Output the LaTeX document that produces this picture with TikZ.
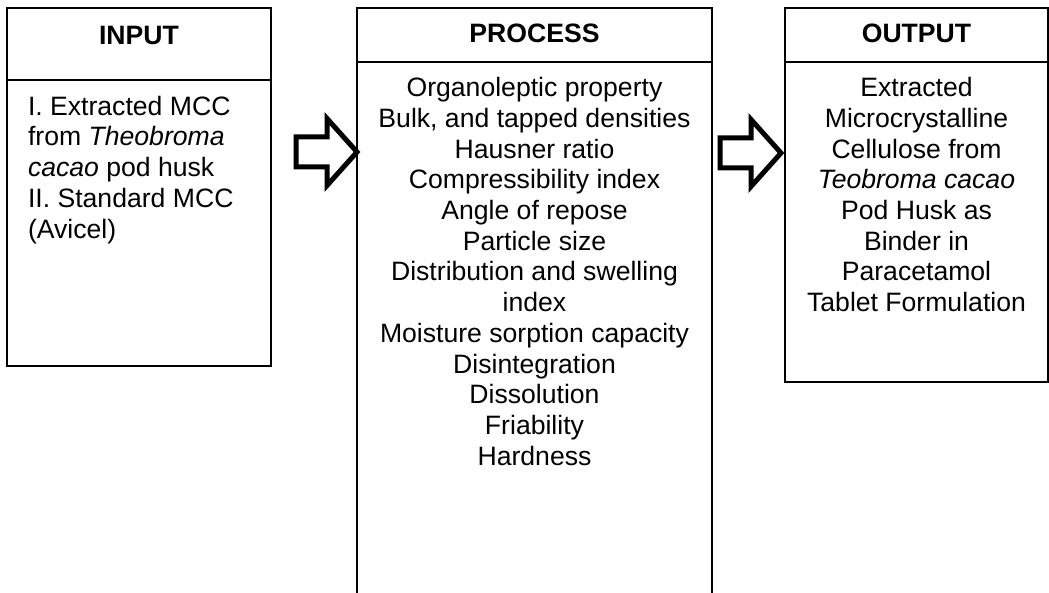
\documentclass[tikz,border=0pt]{standalone}
\usepackage{fontspec}
\setmainfont{Liberation Sans}

\begin{document}
\begin{tikzpicture}[x=0.5pt, y=-0.5pt,
      every node/.style={font=\fontsize{13.3}{15.35}\selectfont, inner sep=0pt, outer sep=0pt},
      headtext/.style={font=\fontsize{13.3}{15.35}\selectfont\bfseries, anchor=base},
      bodytext/.style={anchor=north, align=center},
      boxline/.style={line width=0.6pt},
      bigarrow/.pic={
        \draw[line width=2.5pt, line join=miter] (0,0) -- (-30,-33.5) -- (-30,-15)
          -- (-61,-15) -- (-61,15) -- (-30,15) -- (-30,33.5) -- cycle;}]
      \path[use as bounding box] (0,0) rectangle (1049,593);
      \clip (0,0) rectangle (1049,593);

      % input
      \draw[boxline] (7,8) rectangle (271,366);
      \draw[boxline] (7,80) -- (271,80);
      \node[headtext] (inhead) at (139,45) {INPUT};
      \node[anchor=north west, align=left] (intext) at (28,96)
        {I. Extracted MCC\\ from \textit{Theobroma}\\ \textit{cacao} pod husk\\ II. Standard MCC\\ (Avicel)};

      % process (box runs off the page)
      \draw[boxline] (357,620) -- (357,8) -- (712,8) -- (712,620);
      \draw[boxline] (357,62) -- (712,62);
      \node[headtext] (prochead) at (534.5,43) {PROCESS};
      \node[bodytext] (proctext) at (534.5,77.5)
        {Organoleptic property\\ Bulk, and tapped densities\\ Hausner ratio\\
         Compressibility index\\ Angle of repose\\ Particle size\\
         Distribution and swelling\\ index\\ Moisture sorption capacity\\
         Disintegration\\ Dissolution\\ Friability\\ Hardness};

      % output
      \draw[boxline] (785,8) rectangle (1048,382);
      \draw[boxline] (785,62) -- (1048,62);
      \node[headtext] (outhead) at (916.5,43) {OUTPUT};
      \node[bodytext] (outtext) at (916.5,77.5)
        {Extracted\\ Microcrystalline\\ Cellulose from\\ \textit{Teobroma cacao}\\
         Pod Husk as\\ Binder in\\ Paracetamol\\ Tablet Formulation};

      % arrows, tip at the next box
      \coordinate (tipin) at (357,152);
      \coordinate (tipout) at (781,153);
      \pic at (tipin) {bigarrow};
      \pic at (tipout) {bigarrow};
\end{tikzpicture}
\end{document}
